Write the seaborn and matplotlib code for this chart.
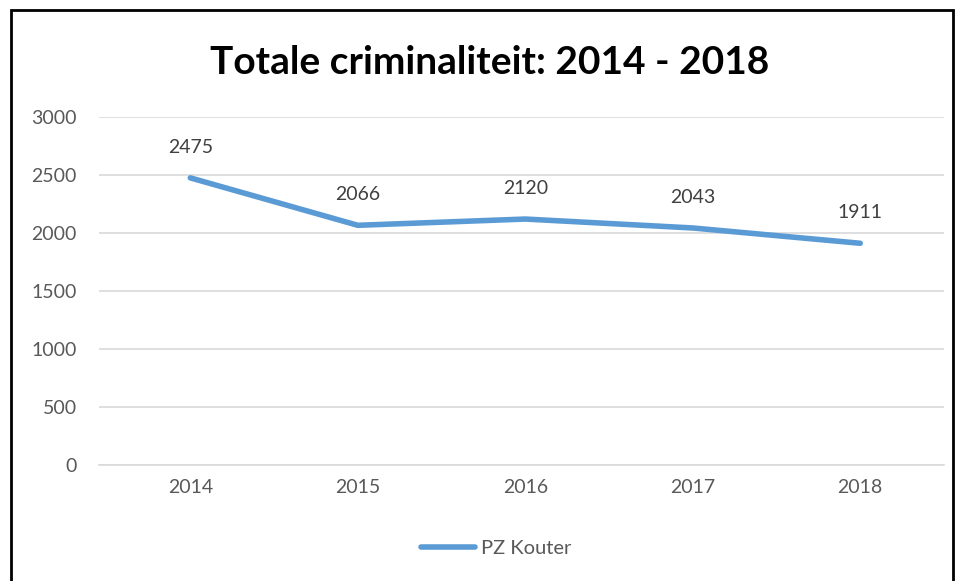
import matplotlib
matplotlib.use("Agg")
import matplotlib.pyplot as plt
import seaborn as sns
import pandas as pd
from matplotlib.patches import Rectangle

years = ["2014", "2015", "2016", "2017", "2018"]
totals = [2475, 2066, 2120, 2043, 1911]
series_name = "PZ Kouter"

df = pd.DataFrame({"jaar": years, "aantal": totals})

sns.set_style("white")
plt.rcParams["font.family"] = ["Lato", "DejaVu Sans"]

fig = plt.figure(figsize=(9.6, 5.81), dpi=100)
ax = fig.add_axes([99 / 960, 0.1997, 845 / 960, 0.599])

sns.lineplot(data=df, x="jaar", y="aantal", ax=ax, color="#5B9BD5",
             linewidth=4, sort=False, label=series_name, solid_capstyle="round")

# data labels above each point
for i, v in enumerate(totals):
    ax.annotate(str(v), (i, v), xytext=(0, 16), textcoords="offset points",
                ha="center", va="bottom", fontsize=14, color="#404040")

ax.set_ylim(0, 3000)
ax.set_xlim(-0.545, 4.5)
ax.set_yticks(range(0, 3001, 500))
ax.yaxis.grid(True, color="#d9d9d9", linewidth=1.2)
ax.xaxis.grid(False)
for s in ax.spines.values():
    s.set_visible(False)
ax.spines["bottom"].set_visible(True)
ax.spines["bottom"].set_color("#d9d9d9")
ax.spines["bottom"].set_linewidth(1.2)
ax.tick_params(axis="both", length=0, labelsize=14, labelcolor="#595959")
ax.tick_params(axis="y", pad=16)
ax.tick_params(axis="x", pad=10)
ax.set_xlabel("")
ax.set_ylabel("")

fig.text(0.51, 0.893, "Totale criminaliteit: 2014 - 2018", ha="center", va="center",
         fontsize=28, fontweight="bold", color="black")

leg = ax.legend(loc="center", bbox_to_anchor=(0.47, -0.24), frameon=False,
                fontsize=14.5, handlelength=2.7, handletextpad=0.3)
for t in leg.get_texts():
    t.set_color("#595959")

# black frame around the whole chart
fig.patches.append(Rectangle((0.011, -0.01), 0.982, 0.993, transform=fig.transFigure,
                             fill=False, edgecolor="black", linewidth=2))

fig.savefig("out.png", dpi=100)
